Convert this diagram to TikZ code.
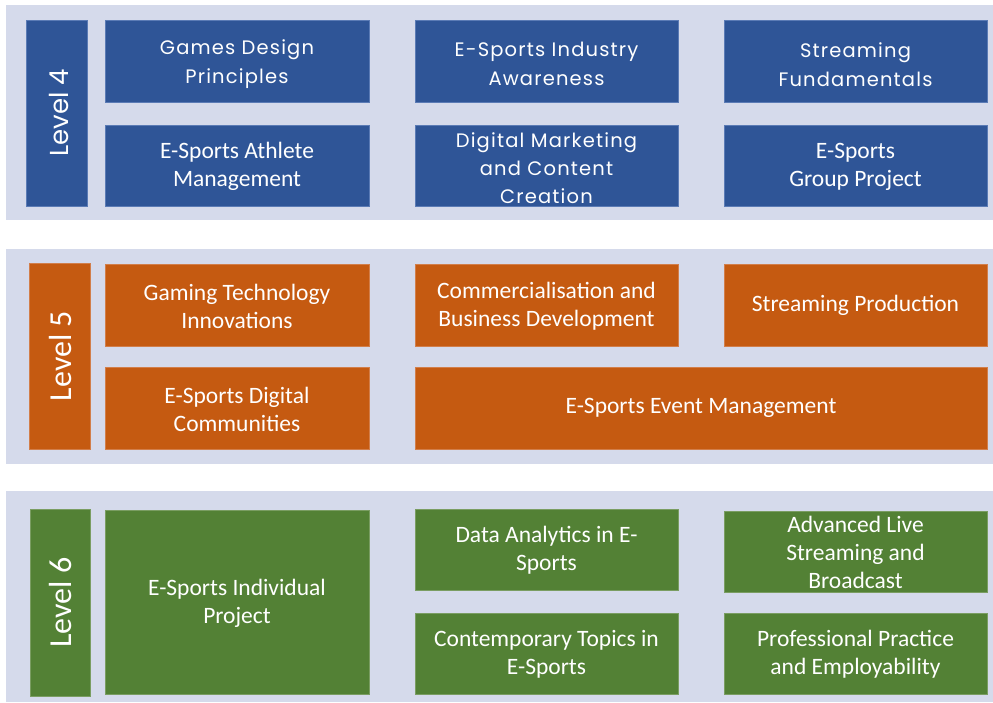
\documentclass[tikz,border=0pt]{standalone}
\usepackage{fontspec}
\setmainfont{Carlito}
\newfontfamily\geofont[LetterSpace=6]{Poppins}
\newfontfamily\geoplain{Poppins}
\definecolor{bandbg}{HTML}{D5DAEB}
\definecolor{lvfour}{HTML}{2F5597}
\definecolor{lvfourline}{HTML}{5B7BB5}
\definecolor{lvfive}{HTML}{C55A11}
\definecolor{lvfiveline}{HTML}{D27E4A}
\definecolor{lvsix}{HTML}{538135}
\definecolor{lvsixline}{HTML}{7A9D62}
\begin{document}
\begin{tikzpicture}[x=1pt,y=-1pt,
  band/.style={fill=bandbg,draw=none},
  modbox/.style={inner sep=0pt,line width=0.8pt},
  txt/.style={text=white,align=center,inner sep=0pt,
     font=\fontsize{23.5}{28}\selectfont},
  geo/.style={text=white,align=center,inner sep=0pt,
     font=\geofont\fontsize{19.5}{29}\selectfont},
  blu/.style={modbox,fill=lvfour,draw=lvfourline},
  ora/.style={modbox,fill=lvfive,draw=lvfiveline},
  grn/.style={modbox,fill=lvsix,draw=lvsixline},
  wa/.style={minimum width=264pt},
  wb/.style={minimum width=263pt},
  lvl/.style={rotate=90,text=white,inner sep=0pt,font=\fontsize{32}{34}\selectfont}]
\useasboundingbox (0,0) rectangle (993,702);
\fill[white] (0,0) rectangle (993,702);
% bands
\fill[band] (6,5) rectangle (993,220);
\fill[band] (6,249) rectangle (993,464);
\fill[band] (6,491) rectangle (993,702);
% Level 4
\node[blu,minimum width=61pt,minimum height=186pt] (l4) at (56.5,113) {};
\node[lvl,font=\geoplain\fontsize{26}{28}\selectfont] (l4t) at ([xshift=2pt]l4.center) {Level 4};
\node[blu,wa,minimum height=82pt] (gdp) at (237,61) {};
\node[geo] (gdpt) at ([yshift=-3.5pt]gdp.center) {Games Design\\Principles};
\node[blu,wb,minimum height=82pt] (eia) at (546.5,61) {};
\node[geo] (eiat) at ([yshift=-3pt]eia.center) {E-Sports Industry\\Awareness};
\node[blu,wb,minimum height=82pt] (sf) at (855.5,61) {};
\node[geo] (sft) at ([yshift=-3.5pt]sf.center) {Streaming\\Fundamentals};
\node[blu,wa,minimum height=81pt] (eam) at (237,165.5) {};
\node[txt] (eamt) at ([yshift=-1pt]eam.center) {E-Sports Athlete\\Management};
\node[blu,wb,minimum height=81pt] (dmc) at (546.5,165.5) {};
\node[geo,font=\geofont\fontsize{19.5}{28}\selectfont] (dmct) at ([yshift=-3pt]dmc.center) {Digital Marketing\\and Content\\Creation};
\node[blu,wb,minimum height=81pt] (egp) at (855.5,165.5) {};
\node[txt] (egpt) at ([yshift=-1pt]egp.center) {E-Sports\\Group Project};
% Level 5
\node[ora,minimum width=61pt,minimum height=186pt] (l5) at (59.5,356) {};
\node[lvl] (l5t) at ([xshift=1pt]l5.center) {Level 5};
\node[ora,wa,minimum height=82pt] (gti) at (237,305) {};
\node[txt] (gtit) at ([yshift=-1pt]gti.center) {Gaming Technology\\Innovations};
\node[ora,wb,minimum height=82pt] (cbd) at (546.5,305) {};
\node[txt] (cbdt) at ([yshift=-1pt]cbd.center) {Commercialisation and\\Business Development};
\node[ora,wb,minimum height=82pt] (sp) at (855.5,305) {};
\node[txt] (spt) at (sp.center) {Streaming Production};
\node[ora,wa,minimum height=82pt] (edc) at (237,408) {};
\node[txt] (edct) at ([yshift=-1pt]edc.center) {E-Sports Digital\\Communities};
\node[ora,minimum width=572pt,minimum height=82pt] (eem) at (701,408) {};
\node[txt] (eemt) at (eem.center) {E-Sports Event Management};
% Level 6
\node[grn,minimum width=60pt,minimum height=187pt] (l6) at (60,602.5) {};
\node[lvl] (l6t) at ([xshift=1pt]l6.center) {Level 6};
\node[grn,wa,minimum height=184pt] (eip) at (237,602) {};
\node[txt] (eipt) at ([yshift=-1pt]eip.center) {E-Sports Individual\\Project};
\node[grn,wb,minimum height=81pt] (dae) at (546.5,549.5) {};
\node[txt] (daet) at ([yshift=-1pt]dae.center) {Data Analytics in E-\\Sports};
\node[grn,wb,minimum height=81pt] (als) at (855.5,551.5) {};
\node[txt] (alst) at ([yshift=-1pt]als.center) {Advanced Live\\Streaming and\\Broadcast};
\node[grn,wb,minimum height=81pt] (cte) at (546.5,653.5) {};
\node[txt] (ctet) at ([yshift=-1pt]cte.center) {Contemporary Topics in\\E-Sports};
\node[grn,wb,minimum height=81pt] (ppe) at (855.5,653.5) {};
\node[txt] (ppet) at ([yshift=-1pt]ppe.center) {Professional Practice\\and Employability};
\end{tikzpicture}
\end{document}
